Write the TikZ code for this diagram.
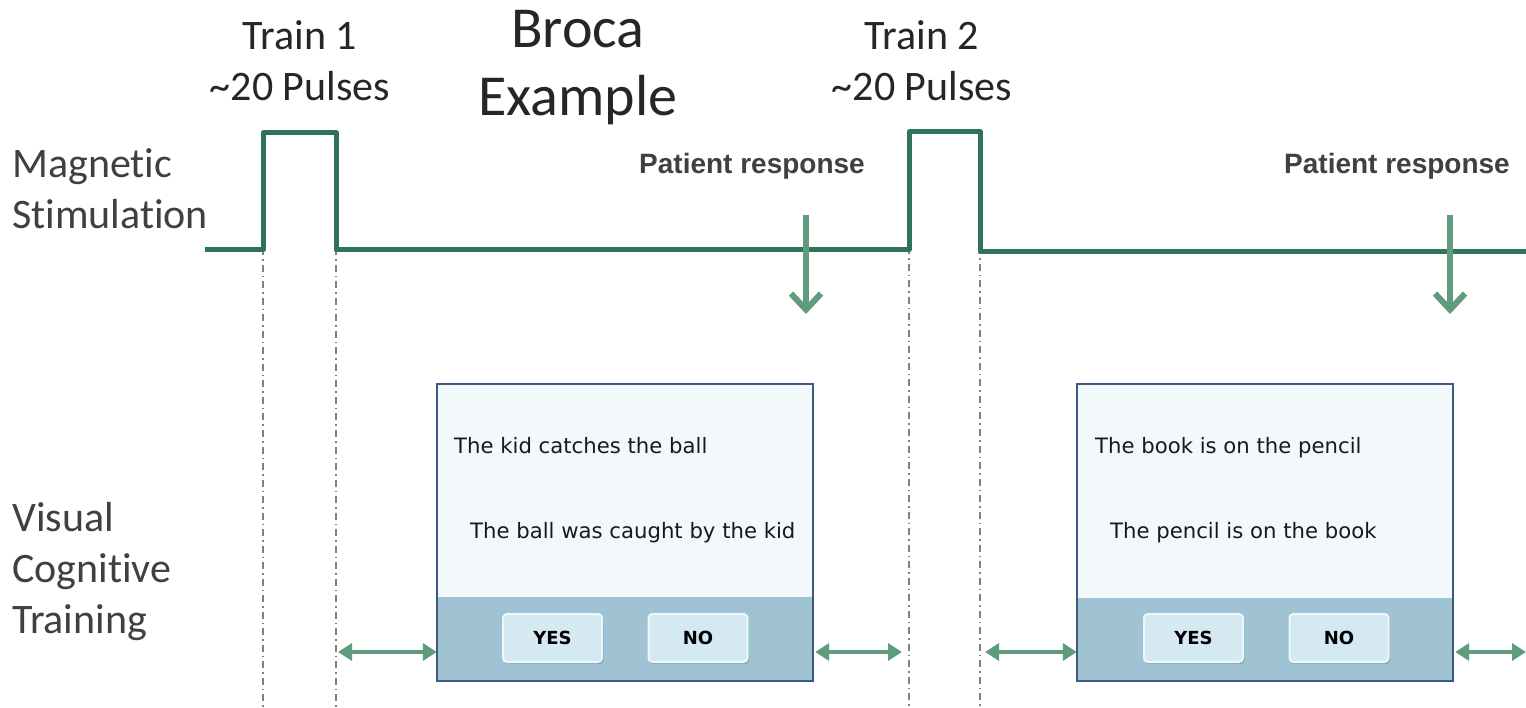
\documentclass[tikz,border=0pt]{standalone}
\usepackage{fontspec}
\setmainfont[Ligatures=NoCommon]{Carlito}
\newfontfamily\arialf{Liberation Sans}
\newfontfamily\verd{DejaVu Sans}
\usetikzlibrary{arrows.meta,calc}
\definecolor{pulsegreen}{HTML}{30735A}
\definecolor{arrowgreen}{HTML}{5F9B7D}
\definecolor{labelgray}{HTML}{404040}
\definecolor{boxtop}{HTML}{F3F8FA}
\definecolor{boxbottom}{HTML}{9FC3D3}
\definecolor{boxborder}{HTML}{3D5A80}
\definecolor{btnfill}{HTML}{D4E9F1}
\definecolor{btnedge}{HTML}{EEF7FA}
\definecolor{btnshadow}{HTML}{7FA6B8}
\definecolor{dotgray}{HTML}{808080}
\begin{document}
\begin{tikzpicture}[x=1pt,y=-1pt,
  pulseline/.style={draw=pulsegreen,line width=5pt,line join=round},
  guide/.style={draw=dotgray,line width=1.5pt,dash pattern=on 7pt off 4pt on 1.5pt off 4pt},
  respdown/.style={draw=arrowgreen,line width=6pt,-{Straight Barb[length=16pt,width=30pt,line width=6pt]}},
  dbl/.style={draw=arrowgreen,line width=4pt,{Triangle[length=14pt,width=17pt]}-{Triangle[length=14pt,width=17pt]}},
  biglabel/.style={font=\fontsize{42}{46}\selectfont,text=labelgray,inner sep=0pt},
  toplabel/.style={font=\fontsize{42}{46}\selectfont,text=black!85,inner sep=0pt},
  resp/.style={font=\arialf\bfseries\fontsize{28}{32}\selectfont,text=labelgray,inner sep=0pt},
  screen/.style={draw=none,fill=boxtop,minimum width=376pt,minimum height=297pt,inner sep=0pt},
  screentext/.style={font=\verd\fontsize{21.2}{24}\selectfont,text=black!90,inner sep=0pt,anchor=base west},
  btn/.style={draw=btnedge,line width=2pt,fill=btnfill,rounded corners=4pt,minimum width=99pt,minimum height=48pt,inner sep=0pt,font=\verd\bfseries\fontsize{18}{20}\selectfont}
]
\useasboundingbox (0,0) rectangle (1526,708);
\fill[white] (0,0) rectangle (1526,708);

% texts
\node[toplabel,anchor=base] (t1a) at (300,50) {Train 1};
\node[toplabel,anchor=base] (t1b) at (300,101) {\textasciitilde20 Pulses};
\node[toplabel,anchor=base] (t2a) at (922,50) {Train 2};
\node[toplabel,anchor=base] (t2b) at (922,101) {\textasciitilde20 Pulses};
\node[toplabel,anchor=base,font=\fontsize{58}{62}\selectfont] (bro) at (578,48) {Broca};
\node[toplabel,anchor=base,font=\fontsize{58}{62}\selectfont] (exa) at (578,116) {Example};
\node[biglabel,anchor=base west] (mag) at (12,178) {Magnetic};
\node[biglabel,anchor=base west] (sti) at (12,229) {Stimulation};
\node[biglabel,anchor=base west] (vis) at (12,531) {Visual};
\node[biglabel,anchor=base west] (cog) at (12,582) {Cognitive};
\node[biglabel,anchor=base west] (tra) at (12,633) {Training};
\node[resp,anchor=base] (r1) at (752,174) {Patient response};
\node[resp,anchor=base] (r2) at (1397,174) {Patient response};

% dotted guides
\coordinate (g1) at (263,133); \coordinate (g1e) at (263,708);
\coordinate (g2) at (336,133); \coordinate (g2e) at (336,708);
\coordinate (g3) at (909,132); \coordinate (g3e) at (909,708);
\coordinate (g4) at (980,132); \coordinate (g4e) at (980,708);
\draw[guide] (g1) -- (g1e);
\draw[guide] (g2) -- (g2e);
\draw[guide] (g3) -- (g3e);
\draw[guide] (g4) -- (g4e);

% pulse line
\coordinate (p0) at (205,250);
\coordinate (pend) at (1526,252);
\draw[pulseline] (p0) -- (263,250) -- (263,133) -- (336,133) -- (336,250) -- (909,250) -- (909,132) -- (980,132) -- (980,252) -- (pend);

% response arrows
\coordinate (d1s) at (806,215); \coordinate (d1e) at (806,314);
\coordinate (d2s) at (1450,215); \coordinate (d2e) at (1450,314);
\draw[respdown] (d1s) -- (d1e);
\draw[respdown] (d2s) -- (d2e);

% screens
\node[screen] (s1) at (625,532.5) {};
\fill[boxbottom] (s1.south west) rectangle ($(s1.east)+(0,64)$);
\draw[boxborder,line width=2pt] (s1.south west) rectangle (s1.north east);
\node[screentext] (s1a) at (454,453) {The kid catches the ball};
\node[screentext] (s1b) at (470,538) {The ball was caught by the kid};
\fill[btnshadow,rounded corners=4pt] (503.5,616) rectangle (603.5,664);
\fill[btnshadow,rounded corners=4pt] (649,616) rectangle (749,664);
\node[btn] (y1) at (552.5,638) {YES};
\node[btn] (n1) at (698,638) {NO};

\node[screen] (s2) at (1265,532.5) {};
\fill[boxbottom] (s2.south west) rectangle ($(s2.east)+(0,65)$);
\draw[boxborder,line width=2pt] (s2.south west) rectangle (s2.north east);
\node[screentext] (s2a) at (1095,453) {The book is on the pencil};
\node[screentext] (s2b) at (1110,538) {The pencil is on the book};
\fill[btnshadow,rounded corners=4pt] (1144.5,616) rectangle (1244.5,664);
\fill[btnshadow,rounded corners=4pt] (1290,616) rectangle (1390,664);
\node[btn] (y2) at (1193.5,638) {YES};
\node[btn] (n2) at (1339,638) {NO};

% double arrows
\coordinate (a1) at (338,652);
\coordinate (a2) at (902,652);
\coordinate (a3) at (985,652);
\coordinate (a4) at (1526,652);
\draw[dbl] (a1) -- (s1.west |- a1);
\draw[dbl] (s1.east |- a2) ++(2,0) -- (a2);
\draw[dbl] (a3) -- (s2.west |- a3);
\draw[dbl] (s2.east |- a4) ++(2,0) -- (a4);
\end{tikzpicture}
\end{document}
